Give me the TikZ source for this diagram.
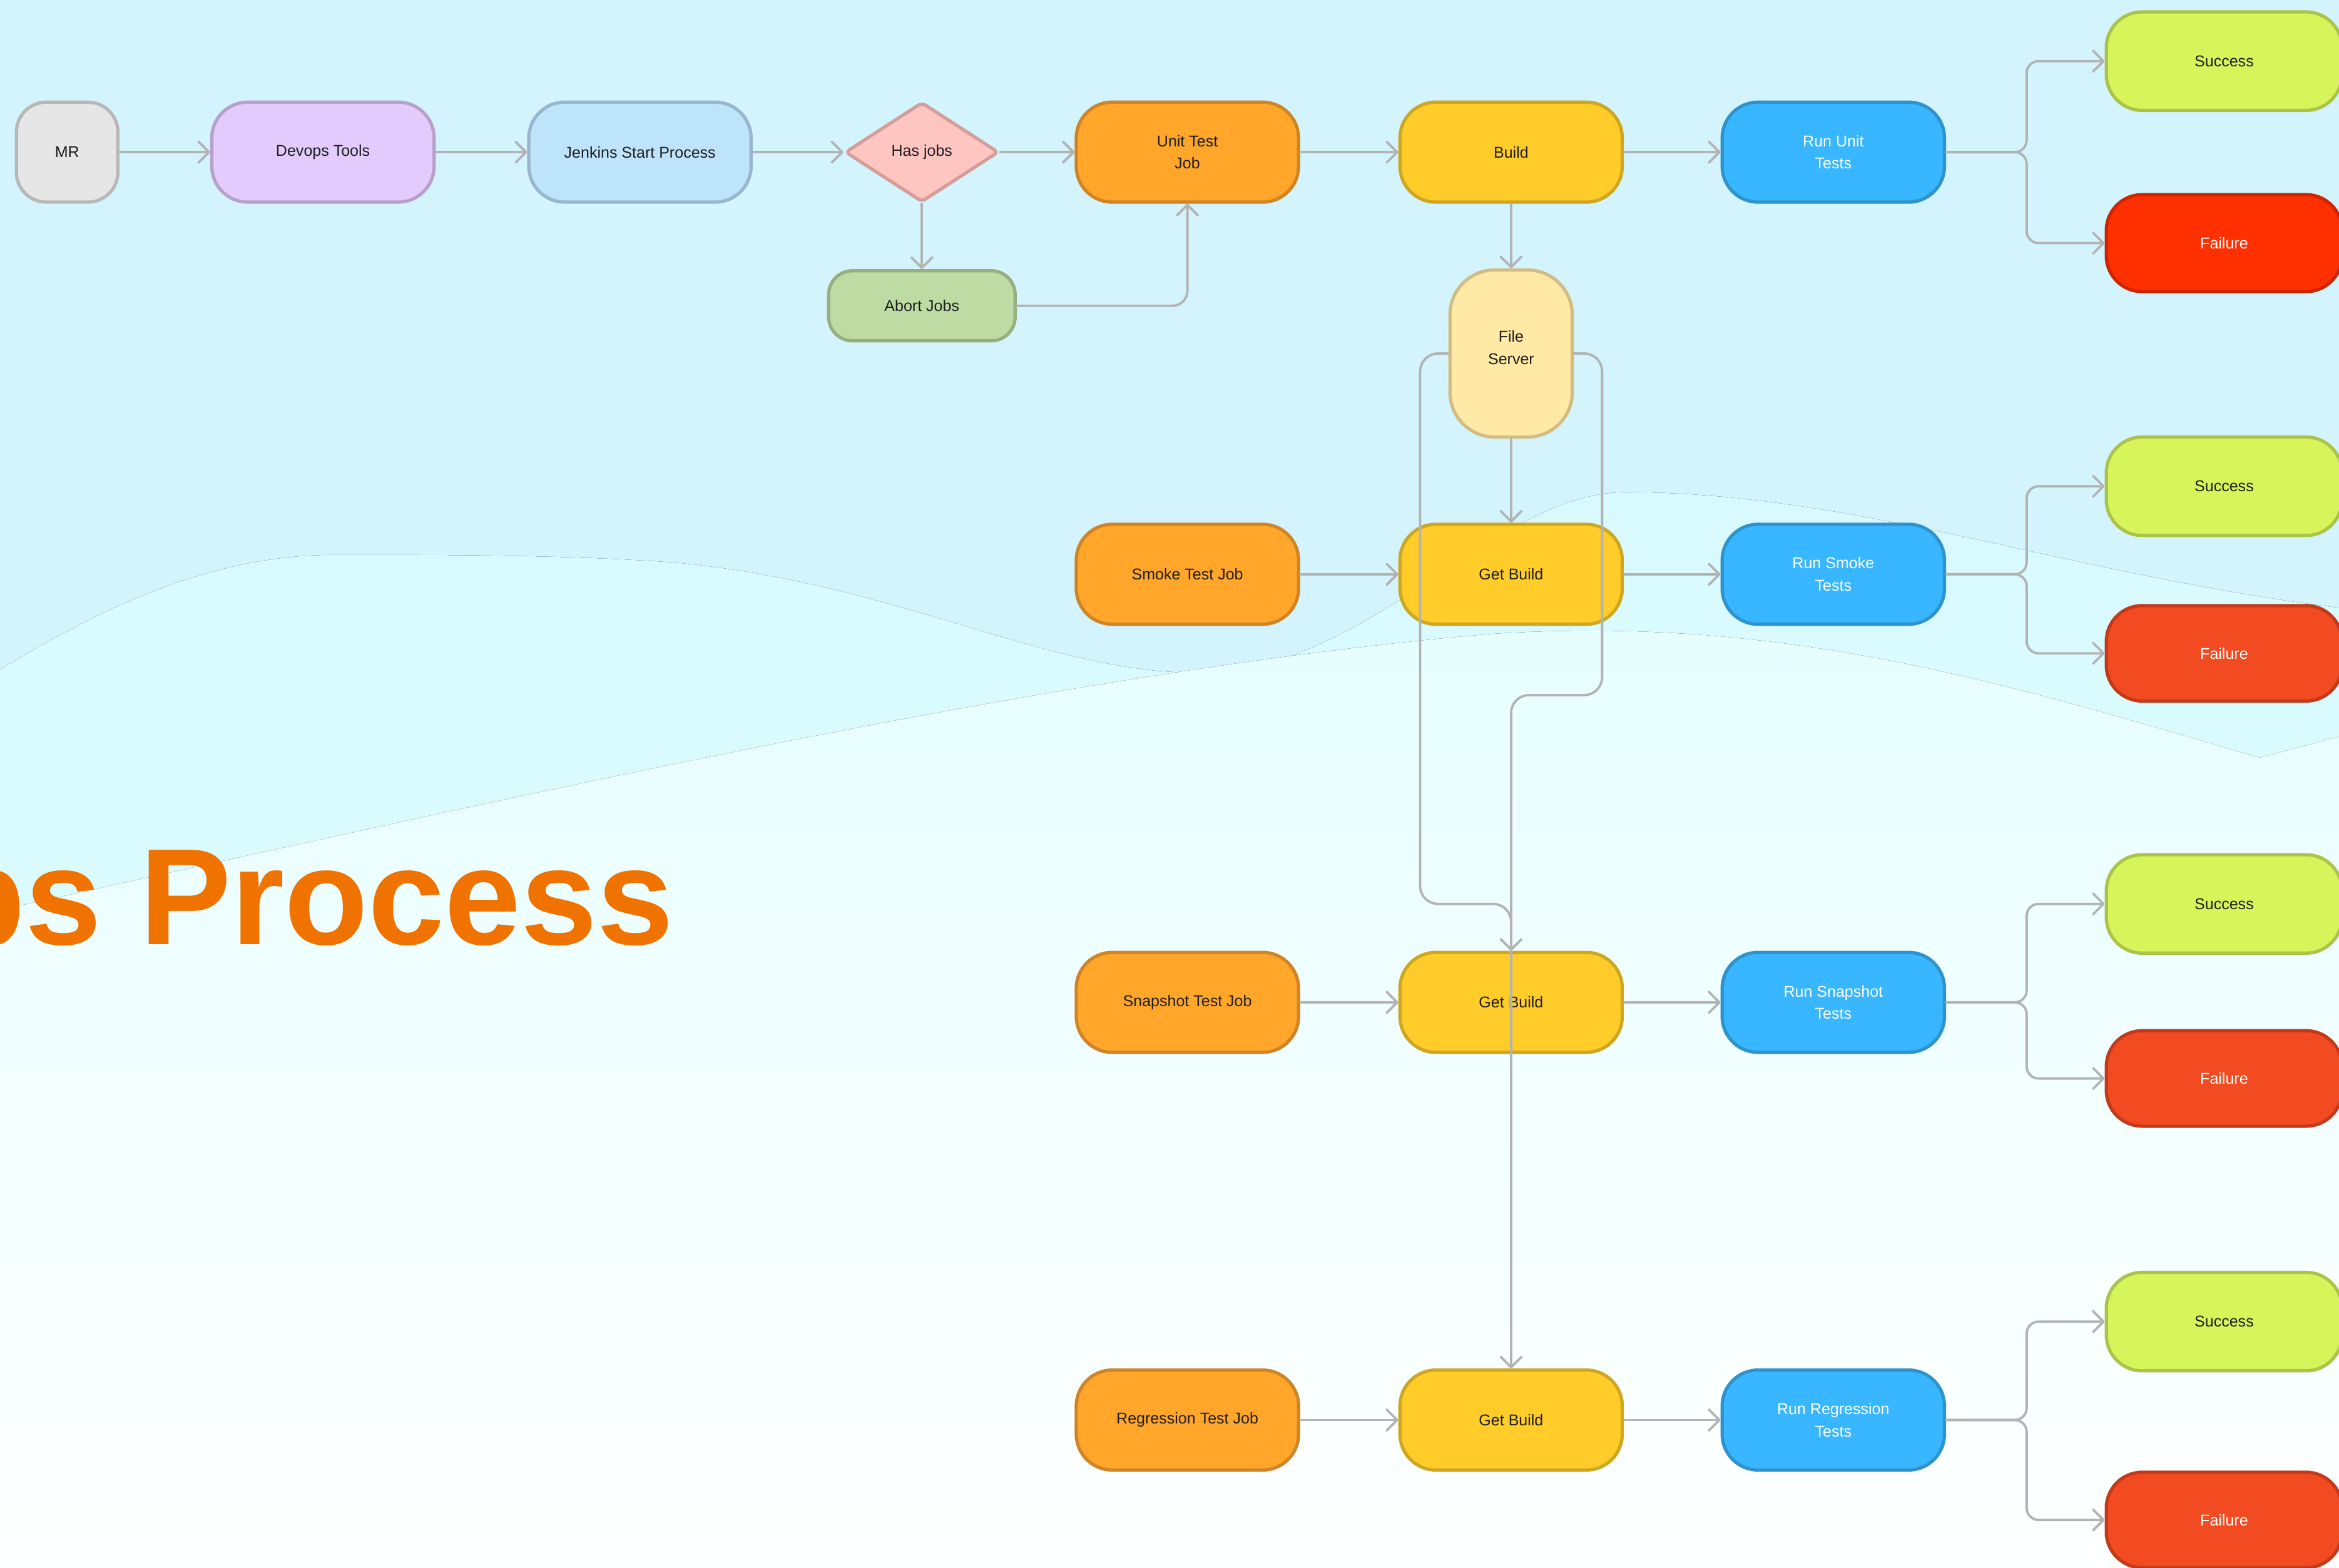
\documentclass[tikz,border=0pt]{standalone}
\usepackage{fontspec}
\setmainfont{Liberation Sans}
\usepackage{tikz}
\usetikzlibrary{arrows.meta}
\usetikzlibrary{shapes.geometric}

\definecolor{linegray}{HTML}{B3B3B3}
\definecolor{txtdark}{HTML}{1E1E1E}
\definecolor{bgtop}{HTML}{D3F4FD}
\definecolor{bgmid}{HTML}{D8FAFE}
\definecolor{bgmidlow}{HTML}{DFFDFE}
\definecolor{bglow}{HTML}{E6FEFF}
\definecolor{titleorange}{HTML}{F07300}
\definecolor{mrfill}{HTML}{E6E6E6}\definecolor{mrdraw}{HTML}{B8B8B8}
\definecolor{toolfill}{HTML}{E3CBFD}\definecolor{tooldraw}{HTML}{B7A1CB}
\definecolor{jenkfill}{HTML}{BEE4FB}\definecolor{jenkdraw}{HTML}{98B7CD}
\definecolor{hasfill}{HTML}{FFC5C0}\definecolor{hasdraw}{HTML}{D49D99}
\definecolor{abortfill}{HTML}{BDDBA3}\definecolor{abortdraw}{HTML}{96AE80}
\definecolor{jobfill}{HTML}{FFA62B}\definecolor{jobdraw}{HTML}{CF8526}
\definecolor{buildfill}{HTML}{FFCC29}\definecolor{builddraw}{HTML}{CDA622}
\definecolor{serverfill}{HTML}{FFE9A5}\definecolor{serverdraw}{HTML}{D1BD84}
\definecolor{runfill}{HTML}{38B6FF}\definecolor{rundraw}{HTML}{2E93CC}
\definecolor{okfill}{HTML}{D7F55B}\definecolor{okdraw}{HTML}{ACC34A}
\definecolor{failfill}{HTML}{F24B21}\definecolor{faildraw}{HTML}{C23A1A}
\definecolor{firstfailfill}{HTML}{FF3000}\definecolor{firstfaildraw}{HTML}{CC2500}

\tikzset{>={Straight Barb[length=7pt,width=14pt,round]}}
\tikzset{
  box/.style={rectangle,rounded corners=24pt,line width=2.2pt,minimum width=149pt,
    minimum height=67pt,inner sep=2pt,align=center,text=txtdark,
    font=\fontsize{10.5pt}{15pt}\selectfont},
  startbox/.style={box,fill=mrfill,draw=mrdraw,minimum width=68pt,rounded corners=20pt},
  toolbox/.style={box,fill=toolfill,draw=tooldraw},
  jenkbox/.style={box,fill=jenkfill,draw=jenkdraw},
  decision/.style={diamond,aspect=1.54,minimum width=103pt,minimum height=67pt,inner sep=0pt,
    line width=2.2pt,rounded corners=3pt,fill=hasfill,draw=hasdraw,text=txtdark,
    font=\fontsize{10.5pt}{15pt}\selectfont},
  abortbox/.style={box,fill=abortfill,draw=abortdraw,minimum width=125pt,minimum height=47pt,
    rounded corners=16pt},
  jobbox/.style={box,fill=jobfill,draw=jobdraw},
  buildbox/.style={box,fill=buildfill,draw=builddraw},
  serverbox/.style={box,fill=serverfill,draw=serverdraw,minimum width=82pt,minimum height=112pt,
    rounded corners=30pt,text depth=8pt},
  runbox/.style={box,fill=runfill,draw=rundraw,text=white},
  okbox/.style={box,fill=okfill,draw=okdraw,minimum width=158pt,minimum height=66pt},
  failbox/.style={box,fill=failfill,draw=faildraw,text=white,minimum width=158pt,minimum height=64pt},
  conn/.style={->,draw=linegray,line width=1.6pt,line cap=round,line join=round},
  titletext/.style={inner sep=0pt,text=titleorange,font=\fontsize{92pt}{92pt}\selectfont\bfseries},
}

\begin{document}
\begin{tikzpicture}[x=1pt,y=-1pt]
  \useasboundingbox (0,0) rectangle (1568,1051);
  % background waves
  \fill[bgtop] (-20,-20) rectangle (1590,1070);
  \fill[top color=bgmid,bottom color=bgmidlow] (-20,449) -- (0,449) .. controls (80,400) and (150,372) .. (225,372)
     .. controls (300,372) and (380,372) .. (450,377)
     .. controls (600,390) and (700,451) .. (802,451)
     .. controls (920,451) and (1000,330) .. (1090,330)
     .. controls (1250,330) and (1400,390) .. (1590,410) -- (1590,1070) -- (-20,1070) -- cycle;
  \fill[top color=bglow,bottom color=white] (-20,612) -- (0,610) .. controls (300,545) and (700,450) .. (1000,425)
     .. controls (1200,412) and (1350,460) .. (1515,508) -- (1590,488) -- (1590,1070) -- (-20,1070) -- cycle;
  \node[titletext,anchor=base east] (title) at (452,633) {Devops Process};

  % top row
  \node[startbox] (mr) at (45,102) {MR};
  \node[toolbox] (devops) at (216.5,102) {Devops Tools};
  \node[jenkbox] (jenkins) at (429,102) {Jenkins Start Process};
  \node[decision] (hasjobs) at (618,102) {Has jobs};
  \node[abortbox] (abort) at (618,205) {Abort Jobs};
  \node[jobbox] (unitjob) at (796,102) {Unit Test\\Job};
  \node[buildbox] (build) at (1013,102) {Build};
  \node[runbox] (rununit) at (1229,102) {Run Unit\\Tests};
  \node[okbox] (unitok) at (1491,41) {Success};
  \node[failbox,fill=firstfailfill,draw=firstfaildraw,minimum height=65pt] (unitfail) at (1491,163) {Failure};
  \node[serverbox] (server) at (1013,237) {File\\Server};

  % smoke
  \node[jobbox] (smokejob) at (796,385) {Smoke Test Job};
  \node[buildbox] (smokeget) at (1013,385) {Get Build};
  \node[runbox] (runsmoke) at (1229,385) {Run Smoke\\Tests};
  \node[okbox] (smokeok) at (1491,326) {Success};
  \node[failbox] (smokefail) at (1491,438) {Failure};

  % snapshot
  \node[jobbox] (snapjob) at (796,672) {Snapshot Test Job};
  \node[buildbox] (snapget) at (1013,672) {Get Build};
  \node[runbox] (runsnap) at (1229,672) {Run Snapshot\\Tests};
  \node[okbox] (snapok) at (1491,606) {Success};
  \node[failbox] (snapfail) at (1491,723) {Failure};

  % regression
  \node[jobbox] (regjob) at (796,952) {Regression Test Job};
  \node[buildbox] (regget) at (1013,952) {Get Build};
  \node[runbox] (runreg) at (1229,952) {Run Regression\\Tests};
  \node[okbox] (regok) at (1491,886) {Success};
  \node[failbox] (regfail) at (1491,1019) {Failure};

  % connectors
  \draw[conn] (mr.east) -- (devops.west);
  \draw[conn] (devops.east) -- (jenkins.west);
  \draw[conn] (jenkins.east) -- (hasjobs.west);
  \draw[conn] (hasjobs.east) -- (unitjob.west);
  \draw[conn] (hasjobs.south) -- (abort.north);
  \draw[conn,rounded corners=10pt] (abort.east) -| (unitjob.south);
  \draw[conn] (unitjob.east) -- (build.west);
  \draw[conn] (build.east) -- (rununit.west);
  \draw[conn] (build.south) -- (server.north);
  \draw[conn] (server.south) -- (smokeget.north);
  \draw[conn,rounded corners=12pt] (server.west) -| (952,606) -| (snapget.north);
  \draw[conn,rounded corners=12pt] (server.east) -| (1074,466) -| (regget.north);
  \draw[conn] (smokejob.east) -- (smokeget.west);
  \draw[conn] (smokeget.east) -- (runsmoke.west);
  \draw[conn] (snapjob.east) -- (snapget.west);
  \draw[conn] (snapget.east) -- (runsnap.west);
  \draw[conn] (regjob.east) -- (regget.west);
  \draw[conn] (regget.east) -- (runreg.west);
  \draw[conn,rounded corners=8pt] (rununit.east) -- ++(54,0) |- (unitok.west);
  \draw[conn,rounded corners=8pt] (rununit.east) -- ++(54,0) |- (unitfail.west);
  \draw[conn,rounded corners=8pt] (runsmoke.east) -- ++(54,0) |- (smokeok.west);
  \draw[conn,rounded corners=8pt] (runsmoke.east) -- ++(54,0) |- (smokefail.west);
  \draw[conn,rounded corners=8pt] (runsnap.east) -- ++(54,0) |- (snapok.west);
  \draw[conn,rounded corners=8pt] (runsnap.east) -- ++(54,0) |- (snapfail.west);
  \draw[conn,rounded corners=8pt] (runreg.east) -- ++(54,0) |- (regok.west);
  \draw[conn,rounded corners=8pt] (runreg.east) -- ++(54,0) |- (regfail.west);
\end{tikzpicture}
\end{document}
